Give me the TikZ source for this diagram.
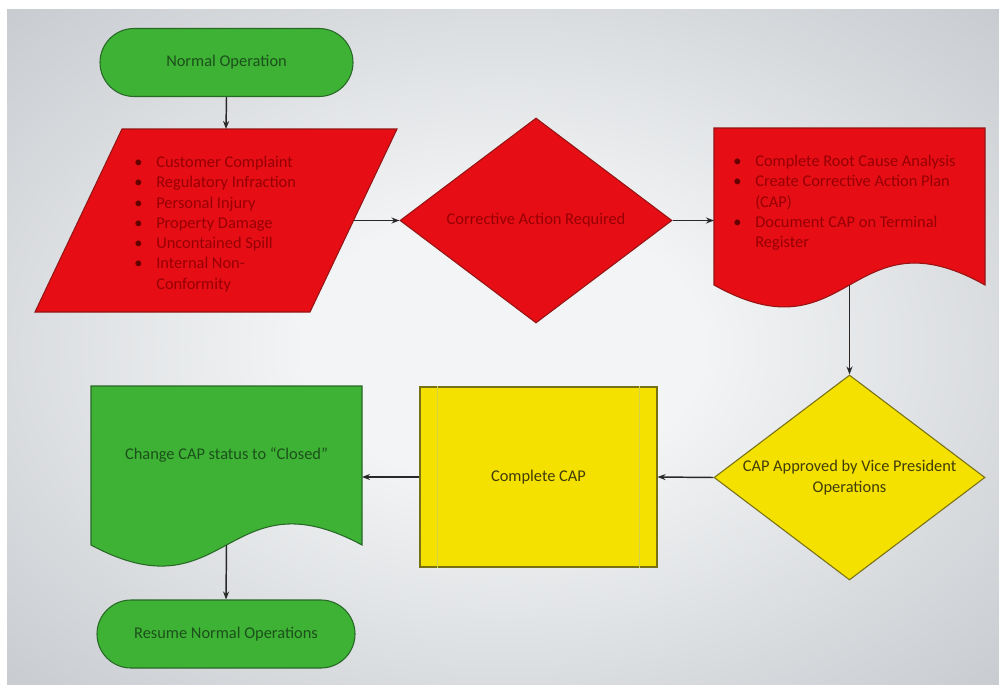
\documentclass[tikz,border=0pt]{standalone}
\usepackage{fontspec}
\setmainfont{Carlito}
\usetikzlibrary{shapes.geometric,shapes.misc,arrows.meta}
\def\pxu{0.75pt}
\definecolor{bgin}{RGB}{242,244,245}
\definecolor{bgout}{RGB}{196,199,204}
\definecolor{redfill}{RGB}{230,14,20}
\definecolor{redline}{RGB}{150,20,20}
\definecolor{redtext}{RGB}{150,0,4}
\definecolor{redbul}{RGB}{100,0,0}
\definecolor{grfill}{RGB}{62,178,52}
\definecolor{grline}{RGB}{40,105,40}
\definecolor{grtext}{RGB}{28,80,28}
\definecolor{ylfill}{RGB}{244,225,0}
\definecolor{ylline}{RGB}{120,112,20}
\definecolor{yltext}{RGB}{65,60,10}
\definecolor{ylinner}{RGB}{212,210,70}
\definecolor{arrowc}{RGB}{40,40,40}
\pgfdeclareradialshading{bgshade}{\pgfpoint{0bp}{0bp}}{color(0bp)=(bgin); color(10bp)=(bgin); color(38bp)=(bgout); color(50bp)=(bgout)}
\tikzset{
  lbl/.style={font=\fontsize{12.3pt}{15.2pt}\selectfont},
  pill/.style={rounded rectangle, minimum height=68*\pxu, inner sep=0pt,
    fill=grfill, draw=grline, line width=0.8pt, text=grtext, lbl},
  redshape/.style={fill=redfill, draw=redline, line width=0.8pt},
  grshape/.style={fill=grfill, draw=grline, line width=0.8pt},
  decision/.style={diamond, shape aspect=1.32, inner sep=0pt, align=center,
    line width=0.8pt, lbl},
  conn/.style={draw=arrowc, line width=1.1pt, -{Stealth[length=6pt,width=4.5pt]}},
  listtext/.style={anchor=north west, inner sep=0pt, align=left, lbl},
}
\newcommand{\bul}[1]{\makebox[16.5pt][l]{\color{redbul}\textbullet}#1}
\newcommand{\cont}[1]{\hspace*{16.5pt}#1}
\begin{document}
\begin{tikzpicture}[x=0.75pt,y=-0.75pt]
\useasboundingbox (0,0) rectangle (999,685);
\fill[white] (0,0) rectangle (999,685);
\shade[shading=bgshade] (7,10) rectangle (999,685);

% start terminator
\node[pill, minimum width=253*\pxu] (start) at (226.5,62.5) {Normal Operation};

% input parallelogram
\draw[redshape] (122,129) -- (397,129) -- (310,312) -- (35,312) -- cycle;
\coordinate (inpT) at (226,129);
\coordinate (inpR) at (353.5,220.5);
\node[listtext, text=redtext] (inptext) at (134,156) {%
\bul{Customer Complaint}\\
\bul{Regulatory Infraction}\\
\bul{Personal Injury}\\
\bul{Property Damage}\\
\bul{Uncontained Spill}\\
\bul{Internal Non-}\\
\cont{Conformity}};

% decision 1
\node[decision, fill=redfill, draw=redline, text=redtext,
  minimum width=272*\pxu, minimum height=205*\pxu] (dec1) at (536,220.5) {Corrective Action Required};

% document 1
\draw[redshape] (714,128) -- (985,128) -- (985,285)
  .. controls (849.5,209) and (849.5,361) .. (714,285) -- cycle;
\coordinate (d1W) at (714,220.5);
\coordinate (d1B) at (849.5,285);
\node[listtext, text=redtext] (d1text) at (733,155) {%
\bul{Complete Root Cause Analysis}\\
\bul{Create Corrective Action Plan}\\
\cont{(CAP)}\\
\bul{Document CAP on Terminal}\\
\cont{Register}};

% decision 2
\node[decision, fill=ylfill, draw=ylline, text=yltext,
  minimum width=271*\pxu, minimum height=205*\pxu] (dec2) at (849.5,477.5) {CAP Approved by Vice President\\Operations};

% predefined process
\node[rectangle, minimum width=237*\pxu, minimum height=180*\pxu, inner sep=0pt,
  fill=ylfill, draw=ylline, line width=0.8pt, text=yltext, lbl] (cap) at (538.5,477) {Complete CAP};
\draw[ylinner, line width=1pt] ([xshift=18*\pxu]cap.north west) -- ([xshift=18*\pxu]cap.south west);
\draw[ylinner, line width=1pt] ([xshift=-18*\pxu]cap.north east) -- ([xshift=-18*\pxu]cap.south east);

% document 2
\draw[grshape] (91,386) -- (362,386) -- (362,545)
  .. controls (226.5,472) and (226.5,618) .. (91,545) -- cycle;
\coordinate (d2E) at (362,477);
\coordinate (d2B) at (226.5,545);
\node[lbl, text=grtext, inner sep=0pt] (d2text) at (226.5,455) {Change CAP status to ``Closed''};

% end terminator
\node[pill, minimum width=258*\pxu] (end) at (226,634) {Resume Normal Operations};

% connectors
\draw[conn] (start.south) -- (inpT);
\draw[conn] (inpR) -- (dec1.west);
\draw[conn] (dec1.east) -- (d1W);
\draw[conn] (d1B) -- (dec2.north);
\draw[conn] (dec2.west) -- (cap.east);
\draw[conn] (cap.west) -- (d2E);
\draw[conn] (d2B) -- (end.north);
\end{tikzpicture}
\end{document}
